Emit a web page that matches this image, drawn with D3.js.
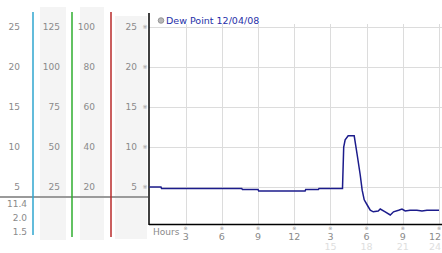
<!DOCTYPE html>
<html>
<head>
<meta charset="utf-8">
<script src="https://cdn.jsdelivr.net/npm/d3@7"></script>
<style>
  body { margin: 0; background: #fff; }
  svg { display: block; font-family: "DejaVu Sans", sans-serif; }
</style>
</head>
<body>
<div id="chart"></div>
<script>
// Dew point readings over 24 hours
const hours = [0, 0.95, 1.0, 7.65, 7.7, 9.0, 9.05, 12.9, 12.95, 14.0, 14.05, 16.0,
  16.1, 16.22, 16.47, 16.97, 17.22, 17.47, 17.63, 17.8, 18.05, 18.3, 18.55, 18.96,
  19.13, 19.54, 19.96, 20.23, 20.65, 20.93, 21.2, 21.6, 22.17, 22.59, 23.0, 23.83, 24.0];
const dewPoint = [5.0, 5.0, 4.8, 4.8, 4.7, 4.7, 4.5, 4.5, 4.7, 4.7, 4.8, 4.8,
  10.0, 10.9, 11.4, 11.4, 9.0, 6.5, 4.6, 3.4, 2.75, 2.1, 1.9, 2.0,
  2.25, 1.9, 1.5, 1.9, 2.1, 2.25, 2.0, 2.1, 2.1, 2.0, 2.1, 2.1, 2.1];

const yTicks = [5, 10, 15, 20, 25];
const col1Labels = ['5', '10', '15', '20', '25'];
const col2Labels = ['25', '50', '75', '100', '125'];
const col3Labels = ['20', '40', '60', '80', '100'];
const col4Labels = ['5', '10', '15', '20', '25'];
const xTicks = [3, 6, 9, 12, 15, 18, 21, 24];
const xTopLabels = ['3', '6', '9', '12', '3', '6', '9', '12'];
const xBottomLabels = ['', '', '', '', '15', '18', '21', '24'];
const statLabels = ['11.4', '2.0', '1.5'];
const legendLabel = 'Dew Point 12/04/08';

const width = 442, height = 253;
const plotTop = 13, plotBottom = 224, plotLeft = 149, plotRight = 442;

const svg = d3.select('#chart').append('svg')
  .attr('width', width)
  .attr('height', height);

const x = d3.scaleLinear().domain([0, 24]).range([149.5, 439]);
const y = d3.scaleLinear().domain([0, 25]).range([227, 27]);

// left panel column backgrounds
const bands = [
  { x0: 40, x1: 66, top: 7, bottom: 240 },
  { x0: 80, x1: 104, top: 7, bottom: 240 },
  { x0: 115, x1: 147, top: 16, bottom: 239 }
];
svg.selectAll('.band').data(bands).enter().append('rect')
  .attr('x', d => d.x0).attr('y', d => d.top)
  .attr('width', d => d.x1 - d.x0).attr('height', d => d.bottom - d.top)
  .attr('fill', '#f4f4f4');

// label columns
const cols = [
  { labels: col1Labels, right: 20 },
  { labels: col2Labels, right: 60 },
  { labels: col3Labels, right: 95 },
  { labels: col4Labels, right: 137 }
];
cols.forEach(c => {
  svg.append('g').selectAll('text').data(yTicks).enter().append('text')
    .attr('x', c.right)
    .attr('y', d => y(d))
    .attr('dy', '0.35em')
    .attr('text-anchor', 'end')
    .attr('fill', '#8a8a8a')
    .style('font-size', '9px')
    .text((d, i) => c.labels[i]);
});

// small tick marks next to the last column
svg.append('g').selectAll('text').data(yTicks).enter().append('text')
  .attr('x', 145).attr('y', d => y(d)).attr('dy', '0.35em')
  .attr('text-anchor', 'middle').attr('fill', '#999')
  .style('font-size', '6px').text('※');

// stats under separator
svg.append('g').selectAll('text').data(statLabels).enter().append('text')
  .attr('x', 27).attr('y', (d, i) => 207 + i * 14)
  .attr('text-anchor', 'end').attr('fill', '#8a8a8a')
  .style('font-size', '9px').text(d => d);

// separator line
svg.append('line')
  .attr('x1', 0).attr('x2', plotLeft - 1).attr('y1', 197).attr('y2', 197)
  .attr('stroke', '#9a9a9a').attr('stroke-width', 2);

// coloured column dividers
const dividers = [
  { x: 33, color: '#2fa6cf', bottom: 235 },
  { x: 72, color: '#2fae2f', bottom: 237 },
  { x: 111, color: '#b82a2a', bottom: 237 }
];
svg.selectAll('.div').data(dividers).enter().append('line')
  .attr('x1', d => d.x).attr('x2', d => d.x)
  .attr('y1', 12).attr('y2', d => d.bottom)
  .attr('stroke', d => d.color).attr('stroke-width', 1.5);

// grid
const grid = svg.append('g');
grid.selectAll('.hg').data(yTicks).enter().append('line')
  .attr('x1', plotLeft).attr('x2', plotRight)
  .attr('y1', d => Math.round(y(d)) + 0.5).attr('y2', d => Math.round(y(d)) + 0.5)
  .attr('stroke', '#dcdcdc');
grid.selectAll('.vg').data(xTicks).enter().append('line')
  .attr('x1', d => Math.round(x(d)) + 0.5).attr('x2', d => Math.round(x(d)) + 0.5)
  .attr('y1', 24).attr('y2', plotBottom)
  .attr('stroke', '#dcdcdc');

// axes frame
svg.append('line')
  .attr('x1', plotLeft).attr('x2', plotLeft).attr('y1', plotTop).attr('y2', plotBottom + 1)
  .attr('stroke', '#000').attr('stroke-width', 1.5);
svg.append('line')
  .attr('x1', plotLeft).attr('x2', plotRight).attr('y1', plotBottom + 0.5).attr('y2', plotBottom + 0.5)
  .attr('stroke', '#000').attr('stroke-width', 1.5);

// x axis labels
const xAxis = svg.append('g');
xAxis.append('text')
  .attr('x', 153).attr('y', 235)
  .attr('fill', '#8a8a8a').style('font-size', '9px').text('Hours');
xAxis.selectAll('.xm').data(xTicks).enter().append('text')
  .attr('x', d => x(d)).attr('y', 230)
  .attr('text-anchor', 'middle').attr('fill', '#999')
  .style('font-size', '5px').text('※');
xAxis.selectAll('.xt').data(xTicks).enter().append('text')
  .attr('x', (d, i) => i === xTicks.length - 1 ? 441 : x(d))
  .attr('y', 240)
  .attr('text-anchor', (d, i) => i === xTicks.length - 1 ? 'end' : 'middle')
  .attr('fill', '#8a8a8a').style('font-size', '9.5px')
  .text((d, i) => xTopLabels[i]);
xAxis.selectAll('.xb').data(xTicks).enter().append('text')
  .attr('x', (d, i) => i === xTicks.length - 1 ? 441 : x(d))
  .attr('y', 250)
  .attr('text-anchor', (d, i) => i === xTicks.length - 1 ? 'end' : 'middle')
  .attr('fill', '#dedede').style('font-size', '9.5px')
  .text((d, i) => xBottomLabels[i]);

// data line
const line = d3.line()
  .x((d, i) => x(hours[i]))
  .y(d => y(d));
svg.append('path')
  .datum(dewPoint)
  .attr('d', line)
  .attr('fill', 'none')
  .attr('stroke', '#1c1c8c')
  .attr('stroke-width', 1.5);

// legend
svg.append('circle')
  .attr('cx', 161).attr('cy', 20.5).attr('r', 2.8)
  .attr('fill', '#b8b8b8').attr('stroke', '#888').attr('stroke-width', 0.8);
svg.append('text')
  .attr('x', 166).attr('y', 24)
  .attr('fill', '#1f2fa8').style('font-size', '9.5px')
  .text(legendLabel);
</script>
</body>
</html>
